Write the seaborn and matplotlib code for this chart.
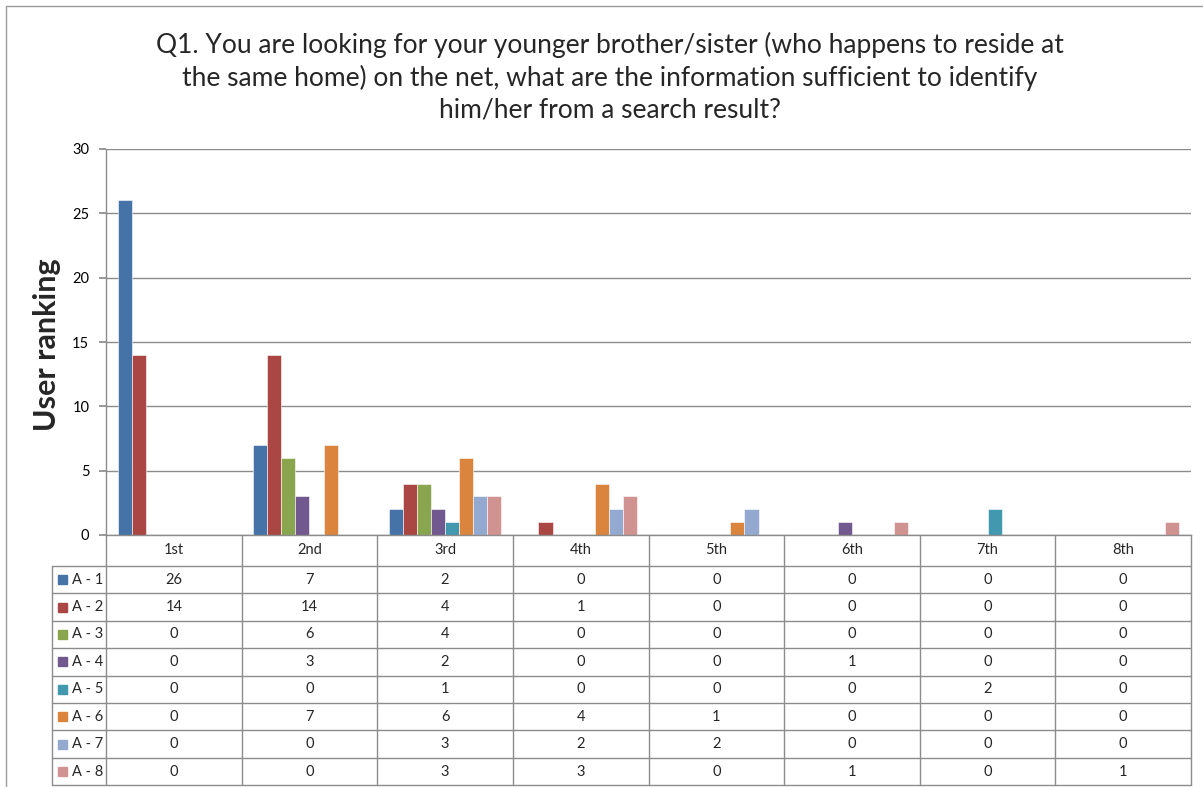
import numpy as np
import pandas as pd
import matplotlib
matplotlib.use("Agg")
import matplotlib.pyplot as plt
import seaborn as sns
from matplotlib.transforms import blended_transform_factory
from matplotlib.lines import Line2D
from matplotlib.patches import Rectangle

# ---------------- data ----------------
ranks = ["1st", "2nd", "3rd", "4th", "5th", "6th", "7th", "8th"]
series = ["A - 1", "A - 2", "A - 3", "A - 4", "A - 5", "A - 6", "A - 7", "A - 8"]
a1 = [26, 7, 2, 0, 0, 0, 0, 0]
a2 = [14, 14, 4, 1, 0, 0, 0, 0]
a3 = [0, 6, 4, 0, 0, 0, 0, 0]
a4 = [0, 3, 2, 0, 0, 1, 0, 0]
a5 = [0, 0, 1, 0, 0, 0, 2, 0]
a6 = [0, 7, 6, 4, 1, 0, 0, 0]
a7 = [0, 0, 3, 2, 2, 0, 0, 0]
a8 = [0, 0, 3, 3, 0, 1, 0, 1]
values = [a1, a2, a3, a4, a5, a6, a7, a8]
colors = ["#4572A7", "#AA4643", "#89A54E", "#71588F",
          "#4198AF", "#DB843D", "#93A9CF", "#D19392"]
yticks = [0, 5, 10, 15, 20, 25, 30]
title = ("Q1. You are looking for your younger brother/sister (who happens to reside at\n"
         "the same home) on the net, what are the information sufficient to identify\n"
         "him/her from a search result?")

df = pd.DataFrame({
    "rank": np.tile(ranks, len(series)),
    "series": np.repeat(series, len(ranks)),
    "value": np.concatenate(values),
})

sns.set_theme(style="white")
plt.rcParams["font.family"] = ["Lato", "DejaVu Sans"]

W, H = 1203, 787
fig = plt.figure(figsize=(W / 100, H / 100), dpi=100)
ax = fig.add_axes([106 / W, 1 - 535 / H, 1085 / W, 386 / H])

sns.barplot(data=df, x="rank", y="value", hue="series", order=ranks,
            hue_order=series, palette=colors, width=0.83, legend=False,
            saturation=1, edgecolor="white", linewidth=0.4, errorbar=None, ax=ax)

grid_c = "#8c8c8c"
ax.set_xlim(-0.5, 7.5)
ax.set_ylim(0, 30)
ax.set_yticks(yticks)
ax.set_yticklabels([str(t) for t in yticks])
ax.yaxis.grid(True, color=grid_c, lw=1)
ax.set_axisbelow(True)
for s in ["top", "right"]:
    ax.spines[s].set_visible(False)
for s in ["left", "bottom"]:
    ax.spines[s].set_color(grid_c)
    ax.spines[s].set_linewidth(1)
ax.set_xticks([])
ax.set_xlabel("")
ax.set_ylabel("")
ax.tick_params(axis="y", length=5, color=grid_c, labelsize=10.5, pad=7,
               left=True, labelcolor="#000000")
ax.text((47 - 106) / 1085, (535 - 345) / 386, "User ranking", transform=ax.transAxes,
        rotation=90, ha="center", va="center", fontsize=22, fontweight="bold")

# ---------------- data table ----------------
tr = blended_transform_factory(ax.transData, ax.transAxes)
hdr_h = 31 / 386
row_h = 27.4 / 386
lab_left = -0.5 - (106 - 52) / 135.625
bottom = -hdr_h - len(series) * row_h
tc = "#8c8c8c"
ax.add_line(Line2D([lab_left, 7.5], [-hdr_h, -hdr_h], transform=tr, color=tc, lw=1, clip_on=False))
for k in range(1, len(series) + 1):
    y = -hdr_h - k * row_h
    ax.add_line(Line2D([lab_left, 7.5], [y, y], transform=tr, color=tc, lw=1, clip_on=False))
for i in range(len(ranks) + 1):
    x = -0.5 + i
    ax.add_line(Line2D([x, x], [0, bottom], transform=tr, color=tc, lw=1, clip_on=False))
ax.add_line(Line2D([lab_left, lab_left], [-hdr_h, bottom], transform=tr, color=tc, lw=1, clip_on=False))
for i, r in enumerate(ranks):
    ax.text(i, -hdr_h / 2, r, transform=tr, ha="center", va="center", fontsize=10.5)
for k, (name, vals, col) in enumerate(zip(series, values, colors)):
    yc = -hdr_h - (k + 0.5) * row_h
    ax.add_patch(Rectangle((-0.5 - (106 - 58) / 135.625, yc - 4.5 / 386),
                           9 / 135.625, 9 / 386, transform=tr, color=col, clip_on=False))
    ax.text(-0.5 - (106 - 72) / 135.625, yc, name, transform=tr, ha="left",
            va="center", fontsize=10.5)
    for i, v in enumerate(vals):
        ax.text(i, yc, str(v), transform=tr, ha="center", va="center", fontsize=10.5)

# title
fig.text(610 / W, 1 - 77 / H, title, ha="center", va="center", fontsize=19,
         linespacing=1.32, multialignment="center")

# chart outer border
bc = "#9a9a9a"
fig.add_artist(Line2D([5.5 / W, 5.5 / W], [1 - 6 / H, 0], transform=fig.transFigure, color=bc, lw=1))
fig.add_artist(Line2D([5.5 / W, 1], [1 - 6 / H, 1 - 6 / H], transform=fig.transFigure, color=bc, lw=1))

fig.savefig("out.png", dpi=100)
